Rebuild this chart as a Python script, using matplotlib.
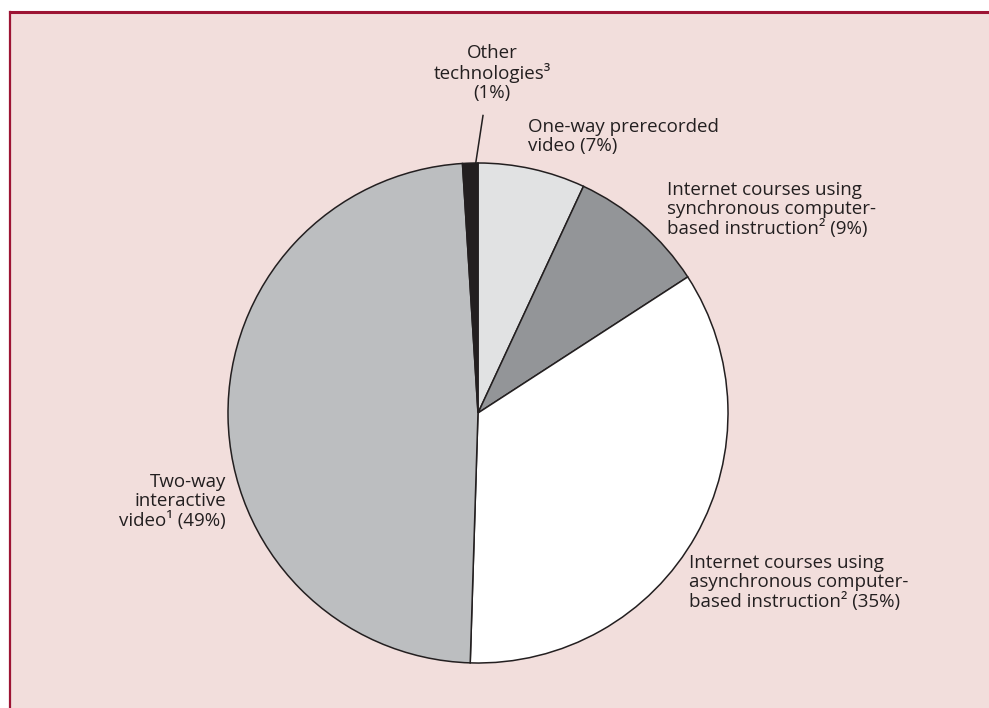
import matplotlib.pyplot as plt
import numpy as np
from matplotlib.lines import Line2D
from matplotlib.patches import Rectangle

plt.rcParams['font.family'] = ['Open Sans', 'DejaVu Sans']

# slices, clockwise from the top
labels = ["One-way prerecorded\nvideo (7%)",
          "Internet courses using\nsynchronous computer-\nbased instruction\u00b2 (9%)",
          "Internet courses using\nasynchronous computer-\nbased instruction\u00b2 (35%)",
          "Two-way\ninteractive\nvideo\u00b9 (49%)",
          "Other\ntechnologies\u00b3\n(1%)"]
shares = [7, 9, 35, 49, 1]
colors = ["#e1e2e3", "#939598", "#ffffff", "#bcbec0", "#231f20"]

W, H = 989, 708
ink = "#231f20"
pink = "#f2dedc"
red = "#9d1434"


def fx(x):
    return x / W


def fy(y):
    return 1 - y / H


fig = plt.figure(figsize=(W / 100, H / 100), dpi=100)
fig.patch.set_facecolor("white")
fig.patches.append(Rectangle((fx(10), 0), 1, fy(12), transform=fig.transFigure,
                             facecolor=pink, edgecolor="none", zorder=-5))
fig.lines.append(Line2D([fx(10), 1], [fy(12), fy(12)], transform=fig.transFigure,
                        color=red, lw=2.2, zorder=-4))
fig.lines.append(Line2D([fx(10), fx(10)], [fy(12), 0], transform=fig.transFigure,
                        color=red, lw=1.6, zorder=-4))

# pie: centre (478, 413), radius 250 px
cx, cy, r = 478, 413, 250
ax = fig.add_axes([fx(cx - r), fy(cy + r), 2 * r / W, 2 * r / H], zorder=2)
ax.patch.set_alpha(0)
wedges, _ = ax.pie(shares, colors=colors, startangle=90, counterclock=False,
                   wedgeprops=dict(edgecolor=ink, linewidth=1.1))
ax.set_xlim(-1, 1)
ax.set_ylim(-1, 1)
ax.axis("off")

# leader line for the 1% slice
w = wedges[-1]
mid = np.deg2rad((w.theta1 + w.theta2) / 2)
ax.plot([0.02, np.cos(mid) + 0.022], [1.19, np.sin(mid)],
        color=ink, lw=1.1, clip_on=False)

fs = 13.5
ls = 1.08
fig.text(fx(492), fy(44), labels[4], ha="center", va="top", fontsize=fs,
         color=ink, linespacing=ls, multialignment="center")
fig.text(fx(528), fy(118), labels[0], ha="left", va="top", fontsize=fs,
         color=ink, linespacing=ls)
fig.text(fx(667), fy(181), labels[1], ha="left", va="top", fontsize=fs,
         color=ink, linespacing=ls)
fig.text(fx(689), fy(554), labels[2], ha="left", va="top", fontsize=fs,
         color=ink, linespacing=ls)
fig.text(fx(226), fy(473), labels[3], ha="right", va="top", fontsize=fs,
         color=ink, linespacing=ls, multialignment="right")

fig.savefig("out.png", dpi=100, facecolor=fig.get_facecolor())
